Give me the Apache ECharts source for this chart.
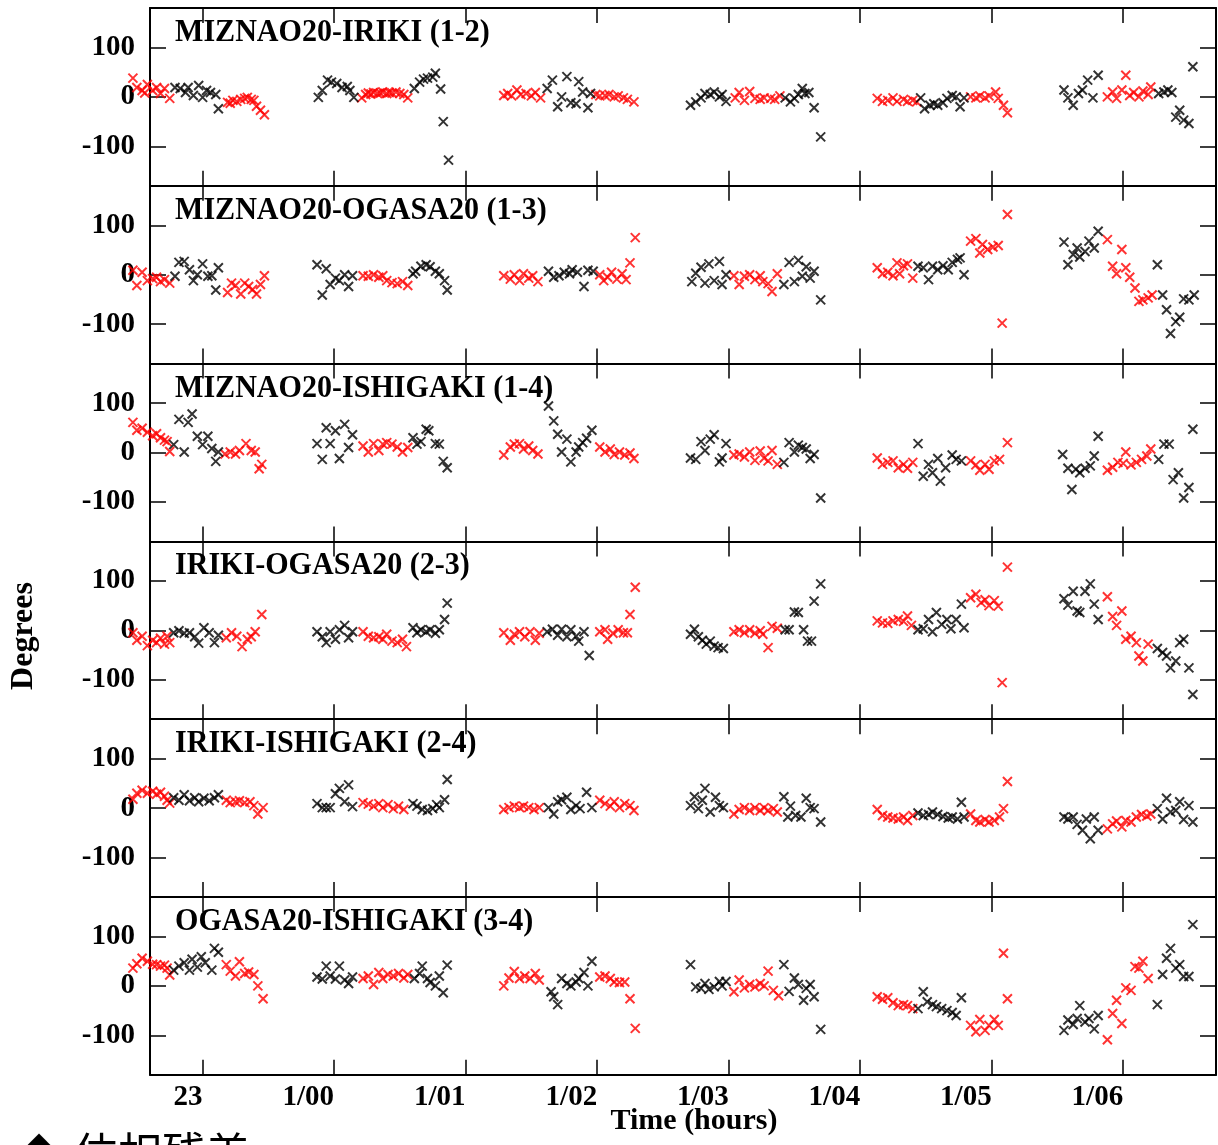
<!DOCTYPE html>
<html>
<head>
<meta charset="utf-8">
<title>Phase residuals</title>
<script src="https://cdn.jsdelivr.net/npm/echarts@6/dist/echarts.min.js"></script>
<style>
  html, body { margin: 0; padding: 0; background: #fff; }
  #main { width: 1218px; height: 1145px; }
</style>
</head>
<body>
<div id="main"></div>
<script>
// tick values / labels
var xTickValues = [23, 24, 25, 26, 27, 28, 29, 30];
var xTickLabels = ['23', '1/00', '1/01', '1/02', '1/03', '1/04', '1/05', '1/06'];
var yTickValues = [-100, 0, 100];
var panelTitles = [
  'MIZNAO20-IRIKI (1-2)',
  'MIZNAO20-OGASA20 (1-3)',
  'MIZNAO20-ISHIGAKI (1-4)',
  'IRIKI-OGASA20 (2-3)',
  'IRIKI-ISHIGAKI (2-4)',
  'OGASA20-ISHIGAKI (3-4)'
];

// [time (h), phase residual (deg)]
var p12Red = [
  [22.47,38],[22.50,19],[22.54,13],[22.56,8],[22.58,25],[22.62,13],[22.65,19],[22.68,7],[22.71,17],[22.75,-3],
  [23.19,-11],[23.21,-13],[23.23,-7],[23.26,-9],[23.29,-5],[23.32,-3],[23.34,-1],[23.37,-5],[23.39,-7],[23.41,-19],[23.44,-27],[23.47,-36],
  [24.21,-2],[24.24,5],[24.26,8],[24.28,6],[24.30,9],[24.33,7],[24.35,8],[24.37,10],[24.40,7],[24.42,9],[24.44,8],[24.47,10],[24.50,7],[24.53,5],[24.56,-2],
  [25.29,3],[25.32,7],[25.35,2],[25.39,14],[25.42,5],[25.46,7],[25.50,2],[25.53,9],[25.57,-2],
  [25.99,5],[26.02,2],[26.06,3],[26.09,5],[26.13,0],[26.16,2],[26.20,-2],[26.23,-5],[26.28,-10],
  [27.05,-2],[27.08,9],[27.12,-7],[27.16,11],[27.20,-3],[27.24,-5],[27.27,-2],[27.32,-3],[27.35,-5],[27.39,2],
  [28.13,-3],[28.17,-9],[28.21,-7],[28.25,-2],[28.28,-9],[28.33,-5],[28.36,-9],[28.40,-7],[28.43,-10],
  [28.84,0],[28.88,-2],[28.91,2],[28.95,-2],[28.98,2],[29.03,10],[29.05,-3],[29.09,-17],[29.12,-32],
  [29.88,0],[29.92,10],[29.95,-3],[29.99,14],[30.02,44],[30.05,3],[30.08,9],[30.12,0],[30.15,12],[30.19,5],[30.21,20]
];
var p12Black = [
  [22.79,19],[22.83,17],[22.87,9],[22.89,19],[22.93,3],[22.97,23],[23.00,-1],[23.03,13],[23.06,9],[23.10,5],[23.12,-24],
  [23.88,-1],[23.91,13],[23.95,34],[23.98,30],[24.02,27],[24.06,19],[24.10,21],[24.12,13],[24.15,-1],
  [24.61,17],[24.65,30],[24.68,36],[24.71,38],[24.75,40],[24.77,48],[24.81,16],[24.83,-50],[24.87,-128],
  [25.62,17],[25.66,34],[25.70,-20],[25.73,0],[25.77,41],[25.80,-12],[25.84,-14],[25.86,31],[25.89,10],[25.93,-22],[25.95,7],
  [26.71,-17],[26.75,-10],[26.79,-2],[26.82,7],[26.86,5],[26.89,10],[26.93,0],[26.95,5],[26.98,-9],
  [27.43,-2],[27.47,-10],[27.50,-3],[27.53,5],[27.56,17],[27.58,7],[27.61,9],[27.65,-22],[27.70,-81],
  [28.46,-2],[28.49,-24],[28.53,-17],[28.56,-14],[28.59,-17],[28.63,-12],[28.66,-3],[28.70,3],[28.73,0],[28.76,-20],[28.79,-2],
  [29.55,14],[29.58,-2],[29.62,-17],[29.66,7],[29.69,14],[29.73,34],[29.77,-2],[29.81,44],
  [30.27,7],[30.31,10],[30.34,14],[30.37,9],[30.40,-41],[30.43,-27],[30.46,-47],[30.50,-54],[30.53,61]
];

var p13Red = [
  [22.47,9],[22.50,-22],[22.54,5],[22.58,-12],[22.62,-8],[22.65,-5],[22.68,-14],[22.71,-10],[22.75,-17],
  [23.19,-36],[23.22,-17],[23.25,-22],[23.29,-39],[23.32,-17],[23.35,-24],[23.38,-30],[23.41,-39],[23.44,-20],[23.47,-2],
  [24.22,-2],[24.26,-3],[24.30,0],[24.34,-5],[24.37,-2],[24.40,-12],[24.44,-16],[24.48,-18],[24.52,-14],[24.56,-22],
  [25.29,-2],[25.34,-9],[25.37,0],[25.41,-12],[25.44,2],[25.48,-7],[25.51,-2],[25.55,-14],
  [26.02,0],[26.05,-12],[26.08,-5],[26.11,5],[26.15,-9],[26.19,2],[26.22,-10],[26.25,24],[26.29,75],
  [27.04,-2],[27.08,-20],[27.12,-3],[27.16,0],[27.20,-10],[27.24,-2],[27.26,-14],[27.30,-18],[27.33,-34],[27.37,2],
  [28.13,14],[28.17,2],[28.21,5],[28.25,-2],[28.28,24],[28.30,2],[28.33,18],[28.36,22],[28.40,-7],
  [28.84,68],[28.88,73],[28.91,44],[28.93,61],[28.97,51],[29.01,56],[29.05,59],[29.08,-98],[29.12,122],
  [29.88,71],[29.92,17],[29.95,2],[29.99,51],[30.02,14],[30.05,-5],[30.09,-27],[30.12,-54],[30.15,-51],[30.19,-47],[30.22,-41]
];
var p13Black = [
  [22.79,-3],[22.82,25],[22.86,27],[22.90,10],[22.93,-12],[22.96,0],[23.00,22],[23.04,-3],[23.07,-2],[23.10,-31],[23.12,14],
  [23.87,20],[23.91,-41],[23.94,12],[23.97,-20],[24.01,-7],[24.04,-12],[24.08,0],[24.11,-24],[24.14,-2],
  [24.60,2],[24.62,7],[24.66,17],[24.70,20],[24.73,16],[24.77,7],[24.80,2],[24.84,-12],[24.86,-31],
  [25.63,7],[25.67,-5],[25.71,-2],[25.75,5],[25.79,2],[25.81,10],[25.85,5],[25.90,-24],[25.93,9],[25.97,7],
  [26.72,-14],[26.75,3],[26.79,15],[26.82,-17],[26.85,22],[26.89,-12],[26.93,27],[26.95,-20],[26.98,0],
  [27.42,-20],[27.46,25],[27.50,-14],[27.53,29],[27.56,-3],[27.59,16],[27.62,-7],[27.65,7],[27.70,-51],
  [28.44,17],[28.48,14],[28.52,-10],[28.55,17],[28.59,10],[28.63,18],[28.67,10],[28.70,25],[28.74,31],[28.76,34],[28.79,0],
  [29.55,66],[29.58,20],[29.62,41],[29.65,54],[29.67,36],[29.71,47],[29.74,68],[29.78,54],[29.81,88],
  [30.26,20],[30.30,-41],[30.33,-71],[30.36,-119],[30.40,-95],[30.43,-86],[30.46,-49],[30.50,-51],[30.54,-41]
];

var p14Red = [
  [22.47,61],[22.50,45],[22.54,49],[22.58,41],[22.62,34],[22.65,38],[22.68,30],[22.71,25],[22.73,22],[22.75,2],
  [23.17,-3],[23.21,1],[23.25,-3],[23.28,4],[23.33,18],[23.37,4],[23.40,1],[23.43,-33],[23.45,-24],
  [24.22,13],[24.26,1],[24.30,18],[24.34,4],[24.37,17],[24.40,20],[24.44,17],[24.48,11],[24.52,1],[24.56,10],
  [25.29,-5],[25.34,11],[25.37,17],[25.41,18],[25.44,7],[25.48,13],[25.51,4],[25.55,-3],
  [26.02,11],[26.06,1],[26.10,7],[26.13,-4],[26.17,1],[26.21,-5],[26.25,-1],[26.28,-12],
  [27.04,-5],[27.08,-3],[27.12,-9],[27.16,1],[27.20,-16],[27.24,3],[27.27,-11],[27.30,-17],[27.33,4],[27.37,-24],
  [28.13,-11],[28.17,-24],[28.21,-20],[28.25,-17],[28.29,-31],[28.33,-24],[28.36,-32],[28.40,-20],
  [28.84,-17],[28.88,-25],[28.91,-36],[28.95,-24],[28.98,-34],[29.02,-17],[29.06,-14],[29.12,20],
  [29.88,-36],[29.92,-30],[29.96,-20],[30.00,-22],[30.02,1],[30.06,-25],[30.10,-20],[30.14,-14],[30.18,-7],[30.21,7]
];
var p14Black = [
  [22.78,16],[22.82,67],[22.86,1],[22.89,61],[22.92,78],[22.96,33],[23.00,16],[23.04,33],[23.07,8],[23.10,-18],[23.12,1],
  [23.87,18],[23.91,-14],[23.94,50],[23.97,18],[24.01,44],[24.04,-12],[24.08,57],[24.11,10],[24.14,36],
  [24.60,30],[24.63,17],[24.66,22],[24.70,47],[24.72,44],[24.77,18],[24.80,17],[24.83,-18],[24.86,-31],
  [25.63,94],[25.67,64],[25.70,37],[25.73,1],[25.77,27],[25.80,-19],[25.84,1],[25.86,11],[25.89,20],[25.92,29],[25.96,45],
  [26.71,-11],[26.75,-14],[26.79,22],[26.82,4],[26.86,27],[26.89,36],[26.93,-19],[26.95,-11],[26.98,18],
  [27.42,-20],[27.46,20],[27.50,1],[27.53,15],[27.56,10],[27.59,7],[27.62,-12],[27.65,-4],[27.70,-92],
  [28.44,18],[28.48,-48],[28.52,-24],[28.55,-41],[28.59,-12],[28.61,-58],[28.65,-31],[28.70,-5],[28.73,-14],[28.77,-17],
  [29.54,-4],[29.58,-32],[29.61,-75],[29.64,-34],[29.67,-41],[29.71,-32],[29.75,-27],[29.78,-7],[29.81,33],
  [30.27,-14],[30.31,17],[30.35,17],[30.38,-55],[30.42,-41],[30.46,-92],[30.50,-71],[30.53,47]
];

var p23Red = [
  [22.47,-5],[22.50,-20],[22.54,-12],[22.58,-31],[22.62,-20],[22.65,-25],[22.68,-16],[22.71,-28],[22.73,-12],[22.75,-25],
  [23.18,-15],[23.22,-5],[23.26,-12],[23.30,-33],[23.34,-18],[23.37,-13],[23.40,-3],[23.45,32],
  [24.22,-3],[24.26,-12],[24.30,-15],[24.34,-13],[24.37,-18],[24.40,-8],[24.44,-22],[24.48,-25],[24.52,-18],[24.55,-33],
  [25.29,-5],[25.34,-20],[25.37,-8],[25.41,-3],[25.45,-13],[25.49,-3],[25.53,-20],[25.56,-6],
  [26.02,-3],[26.06,1],[26.08,-18],[26.12,-6],[26.16,1],[26.20,-5],[26.23,-5],[26.25,32],[26.29,87],
  [27.04,-3],[27.08,1],[27.12,-5],[27.16,1],[27.20,-6],[27.24,-1],[27.26,-8],[27.30,-35],[27.33,8],[27.37,4],
  [28.13,19],[28.17,15],[28.21,14],[28.25,19],[28.29,22],[28.33,18],[28.36,29],[28.39,10],
  [28.84,66],[28.88,73],[28.92,56],[28.95,62],[28.98,50],[29.02,60],[29.05,49],[29.08,-106],[29.12,128],
  [29.88,68],[29.92,28],[29.95,10],[29.99,39],[30.02,-18],[30.06,-12],[30.10,-25],[30.12,-52],[30.15,-62],[30.19,-28]
];
var p23Black = [
  [22.78,-5],[22.82,-1],[22.86,-6],[22.90,-5],[22.94,-13],[22.97,-26],[23.01,5],[23.05,-5],[23.09,-25],[23.12,-10],
  [23.87,-3],[23.91,-13],[23.94,-25],[23.97,-3],[24.01,-18],[24.04,1],[24.08,10],[24.11,-15],[24.14,-3],
  [24.60,5],[24.63,-5],[24.66,1],[24.70,-3],[24.73,1],[24.77,-6],[24.80,1],[24.84,22],[24.86,55],
  [25.62,-3],[25.66,2],[25.70,-10],[25.73,2],[25.77,-13],[25.80,1],[25.84,-12],[25.86,-22],[25.90,-3],[25.94,-51],
  [26.71,-8],[26.74,2],[26.77,-13],[26.80,-20],[26.83,-28],[26.86,-22],[26.89,-32],[26.92,-35],[26.96,-37],
  [27.43,1],[27.46,1],[27.50,37],[27.53,36],[27.57,1],[27.60,-22],[27.63,-22],[27.65,59],[27.70,94],
  [28.44,1],[28.48,3],[28.52,22],[28.55,-3],[28.58,36],[28.62,12],[28.66,22],[28.69,3],[28.73,22],[28.77,53],[28.79,5],
  [29.55,64],[29.58,51],[29.62,79],[29.65,39],[29.67,36],[29.71,79],[29.75,94],[29.78,53],[29.81,22],
  [30.26,-37],[30.30,-45],[30.33,-52],[30.36,-76],[30.40,-62],[30.43,-25],[30.46,-18],[30.50,-76],[30.53,-130]
];

var p24Red = [
  [22.47,18],[22.50,30],[22.54,36],[22.58,30],[22.62,34],[22.65,28],[22.68,32],[22.71,24],[22.73,16],[22.75,10],
  [23.18,16],[23.21,11],[23.25,13],[23.28,15],[23.32,11],[23.36,13],[23.39,5],[23.42,-12],[23.46,1],
  [24.22,11],[24.26,8],[24.30,4],[24.34,9],[24.37,1],[24.41,7],[24.45,-1],[24.49,4],[24.53,-3],
  [25.29,-3],[25.33,1],[25.37,4],[25.41,1],[25.44,4],[25.48,1],[25.52,-3],[25.56,1],
  [26.02,16],[26.06,9],[26.10,4],[26.13,13],[26.17,1],[26.21,9],[26.25,5],[26.28,-5],
  [27.04,-12],[27.08,-3],[27.12,1],[27.16,-5],[27.20,1],[27.24,-5],[27.27,1],[27.30,-5],[27.34,-1],[27.37,-8],
  [28.13,-3],[28.17,-15],[28.21,-18],[28.25,-20],[28.29,-22],[28.33,-18],[28.36,-25],[28.40,-15],
  [28.84,-12],[28.88,-25],[28.91,-28],[28.95,-23],[28.98,-28],[29.02,-25],[29.06,-18],[29.09,-1],[29.12,54],
  [29.88,-42],[29.92,-32],[29.95,-26],[29.99,-38],[30.02,-25],[30.06,-28],[30.10,-18],[30.14,-13],[30.18,-16],[30.21,-12]
];
var p24Black = [
  [22.78,21],[22.82,16],[22.86,27],[22.90,15],[22.94,21],[22.97,13],[23.01,20],[23.05,15],[23.09,21],[23.12,27],
  [23.87,9],[23.91,1],[23.94,1],[23.97,1],[24.01,29],[24.04,40],[24.08,13],[24.11,47],[24.14,3],
  [24.60,9],[24.63,4],[24.67,-3],[24.71,-5],[24.75,-1],[24.78,7],[24.80,1],[24.84,17],[24.86,58],
  [25.63,1],[25.67,-12],[25.70,13],[25.73,17],[25.77,22],[25.80,-3],[25.84,5],[25.87,-1],[25.92,32],[25.96,1],
  [26.71,5],[26.74,23],[26.77,-1],[26.80,16],[26.82,40],[26.86,-8],[26.90,22],[26.93,5],[26.96,1],
  [27.42,23],[27.45,-18],[27.47,4],[27.51,-15],[27.55,-18],[27.59,20],[27.62,1],[27.65,-1],[27.70,-28],
  [28.44,-10],[28.48,-15],[28.52,-13],[28.55,-8],[28.59,-13],[28.63,-17],[28.67,-20],[28.70,-18],[28.74,-22],[28.77,12],[28.79,-18],
  [29.55,-18],[29.58,-22],[29.62,-18],[29.65,-33],[29.69,-45],[29.72,-22],[29.75,-62],[29.78,-18],[29.81,-45],
  [30.26,-1],[30.30,-22],[30.33,20],[30.36,-8],[30.40,-5],[30.43,13],[30.46,-23],[30.50,5],[30.53,-28]
];

var p34Red = [
  [22.47,36],[22.50,45],[22.54,56],[22.58,50],[22.62,44],[22.65,43],[22.68,40],[22.71,42],[22.73,36],[22.75,22],
  [23.18,43],[23.21,30],[23.25,20],[23.28,49],[23.32,25],[23.35,28],[23.39,23],[23.42,0],[23.46,-26],
  [24.22,15],[24.26,20],[24.30,3],[24.34,27],[24.37,15],[24.41,23],[24.45,20],[24.49,25],[24.53,16],[24.56,23],
  [25.29,0],[25.33,16],[25.37,29],[25.41,15],[25.45,20],[25.49,15],[25.53,25],[25.56,12],
  [26.02,18],[26.06,20],[26.10,15],[26.13,8],[26.17,7],[26.21,8],[26.25,-26],[26.29,-86],
  [27.04,-12],[27.08,12],[27.12,-4],[27.16,3],[27.20,-2],[27.24,5],[27.27,0],[27.30,30],[27.34,-9],[27.38,-20],
  [28.13,-22],[28.17,-27],[28.21,-24],[28.25,-34],[28.29,-40],[28.33,-38],[28.36,-40],[28.40,-46],
  [28.84,-80],[28.88,-93],[28.91,-68],[28.95,-90],[28.98,-80],[29.02,-68],[29.05,-80],[29.09,66],[29.12,-26],
  [29.88,-109],[29.92,-56],[29.95,-29],[29.99,-76],[30.02,-4],[30.06,-9],[30.09,39],[30.12,36],[30.15,50],[30.19,15]
];
var p34Black = [
  [22.78,32],[22.82,40],[22.86,47],[22.90,32],[22.92,54],[22.96,38],[22.99,59],[23.02,47],[23.07,32],[23.09,76],[23.12,68],
  [23.87,18],[23.91,14],[23.94,40],[23.97,20],[24.01,14],[24.04,40],[24.08,12],[24.11,5],[24.14,18],
  [24.61,15],[24.65,25],[24.67,40],[24.71,15],[24.73,7],[24.77,0],[24.80,20],[24.83,-14],[24.86,42],
  [25.65,-12],[25.67,-22],[25.70,-38],[25.73,15],[25.77,5],[25.80,0],[25.84,8],[25.86,15],[25.90,27],[25.93,0],[25.96,50],
  [26.71,43],[26.75,-2],[26.79,-5],[26.82,5],[26.85,-7],[26.89,-2],[26.93,9],[26.95,0],[26.98,9],
  [27.42,43],[27.46,-11],[27.50,16],[27.53,3],[27.57,-29],[27.59,-5],[27.62,3],[27.65,-22],[27.70,-88],
  [28.44,-46],[28.48,-12],[28.51,-32],[28.55,-38],[28.58,-42],[28.62,-46],[28.66,-50],[28.70,-54],[28.73,-60],[28.77,-24],
  [29.55,-90],[29.58,-69],[29.62,-78],[29.65,-66],[29.67,-40],[29.71,-73],[29.74,-66],[29.78,-87],[29.81,-60],
  [30.26,-38],[30.30,23],[30.33,56],[30.36,76],[30.40,36],[30.43,43],[30.46,19],[30.50,19],[30.53,124]
];

var panelRed = [p12Red, p13Red, p14Red, p23Red, p24Red, p34Red];
var panelBlack = [p12Black, p13Black, p14Black, p23Black, p24Black, p34Black];

var chart = echarts.init(document.getElementById('main'));

var TOP = 8, PANEL_H = 177.8;
var SERIF = '"Liberation Serif", "Times New Roman", serif';
var crossSymbol = 'path://M0,0L10,10M10,0L0,10';

var grids = [], xAxes = [], yAxes = [], series = [], graphics = [];

function xAxisFor(k, pos) {
  return {
    gridIndex: k,
    type: 'value',
    position: pos,
    min: 22.6,
    max: 30.706,
    axisLine: { onZero: false, lineStyle: { color: '#000', width: 2 } },
    axisTick: { inside: true, length: 15, customValues: xTickValues, lineStyle: { color: '#000', width: 1.5 } },
    axisLabel: {
      show: pos === 'bottom' && k === 5,
      customValues: xTickValues,
      margin: 8,
      align: 'right',
      color: '#000',
      fontFamily: SERIF,
      fontWeight: 'bold',
      fontSize: 29,
      formatter: function (v) {
        var i = xTickValues.indexOf(Math.round(v));
        return i >= 0 ? xTickLabels[i] : '';
      }
    },
    splitLine: { show: false }
  };
}

function yAxisFor(k, pos) {
  return {
    gridIndex: k,
    type: 'value',
    position: pos,
    min: -180,
    max: 180,
    axisLine: { onZero: false, lineStyle: { color: '#000', width: 2 } },
    axisTick: { inside: true, length: 16, customValues: yTickValues, lineStyle: { color: '#000', width: 1.5 } },
    axisLabel: {
      show: pos === 'left',
      customValues: yTickValues,
      margin: 15,
      color: '#000',
      fontFamily: SERIF,
      fontWeight: 'bold',
      fontSize: 29
    },
    splitLine: { show: false }
  };
}

for (var k = 0; k < 6; k++) {
  grids.push({ left: 150, right: 2, top: TOP + k * PANEL_H, height: PANEL_H });
  xAxes.push(xAxisFor(k, 'bottom'));
  xAxes.push(xAxisFor(k, 'top'));
  yAxes.push(yAxisFor(k, 'left'));
  yAxes.push(yAxisFor(k, 'right'));

  [['red', panelRed[k], '#ff0000'], ['black', panelBlack[k], '#000000']].forEach(function (s) {
    series.push({
      type: 'scatter',
      name: panelTitles[k] + ' ' + s[0],
      xAxisIndex: 2 * k,
      yAxisIndex: 2 * k,
      data: s[1],
      clip: false,
      symbol: crossSymbol,
      symbolSize: 9,
      itemStyle: { color: 'rgba(0,0,0,0)', borderColor: s[2], borderWidth: 2 },
      emphasis: { disabled: true }
    });
  });

  graphics.push({
    type: 'text',
    x: 175,
    y: TOP + k * PANEL_H + 25,
    scaleX: 0.97,
    style: {
      text: panelTitles[k],
      font: 'bold 31px ' + SERIF,
      fill: '#000',
      textVerticalAlign: 'middle',
      verticalAlign: 'middle'
    }
  });
}

graphics.push({
  type: 'text',
  x: 24,
  y: 636,
  rotation: Math.PI / 2,
  style: {
    text: 'Degrees', font: 'bold 32px ' + SERIF, fill: '#000',
    textAlign: 'center', align: 'center', textVerticalAlign: 'middle', verticalAlign: 'middle'
  }
});
graphics.push({
  type: 'text',
  x: 694,
  y: 1121,
  style: {
    text: 'Time (hours)', font: 'bold 30px ' + SERIF, fill: '#000',
    textAlign: 'center', align: 'center', textVerticalAlign: 'middle', verticalAlign: 'middle'
  }
});
// caption below the figure (cut off at the bottom edge)
graphics.push({
  type: 'text',
  x: 27,
  y: 1133,
  style: { text: '◆', font: '24px "Noto Sans CJK JP"', fill: '#000', textVerticalAlign: 'top', verticalAlign: 'top' }
});
graphics.push({
  type: 'text',
  x: 74,
  y: 1131,
  style: { text: '位相残差', font: '44px "Noto Sans CJK JP"', fill: '#000', textVerticalAlign: 'top', verticalAlign: 'top' }
});

chart.setOption({
  animation: false,
  grid: grids,
  xAxis: xAxes,
  yAxis: yAxes,
  series: series,
  graphic: graphics
});
</script>
</body>
</html>
